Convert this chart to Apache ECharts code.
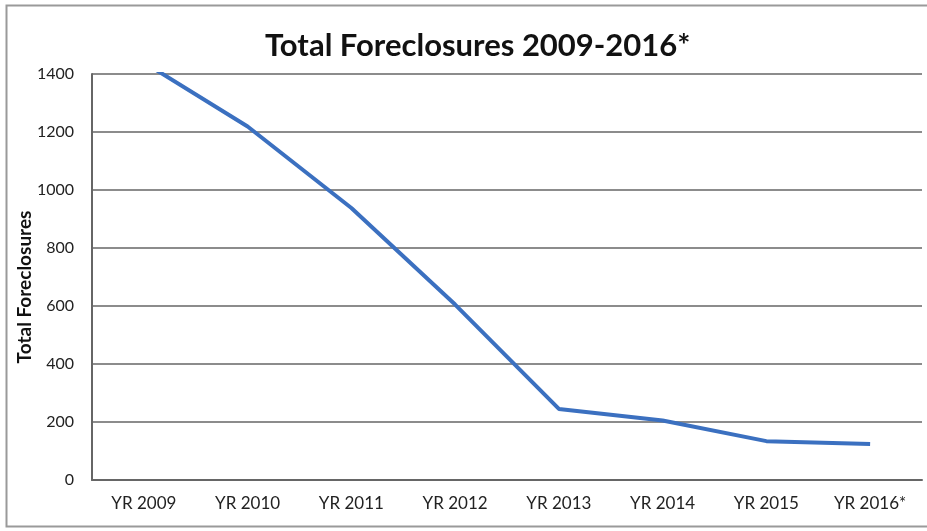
<!DOCTYPE html>
<html>
<head>
<meta charset="utf-8">
<script src="https://cdn.jsdelivr.net/npm/echarts@6/dist/echarts.min.js"></script>
<style>
  html, body { margin: 0; padding: 0; background: #fff; }
  #chart { width: 927px; height: 531px; }
</style>
</head>
<body>
<div id="chart"></div>
<script>
// Yearly foreclosure totals
const years = ['YR 2009', 'YR 2010', 'YR 2011', 'YR 2012', 'YR 2013', 'YR 2014', 'YR 2015', 'YR 2016*'];
const foreclosures = [1440, 1219, 938, 605, 245, 205, 134, 124];
const yTicks = [0, 200, 400, 600, 800, 1000, 1200, 1400];

const font = 'Lato, "Open Sans", sans-serif';
const chart = echarts.init(document.getElementById('chart'));

chart.setOption({
  animation: false,
  backgroundColor: '#fff',
  title: {
    text: 'Total Foreclosures 2009-2016*',
    left: 260,
    top: 25,
    textStyle: { fontFamily: font, fontWeight: 'bold', fontSize: 31, color: '#111' }
  },
  graphic: [{
    type: 'rect',
    shape: { x: 6.5, y: 5.5, width: 930, height: 521 },
    style: { fill: 'none', stroke: '#9a9a9a', lineWidth: 2 },
    silent: true
  }],
  grid: { left: 92, right: 5, top: 74, bottom: 51 },
  xAxis: {
    type: 'category',
    data: years,
    boundaryGap: true,
    axisLine: { lineStyle: { color: '#666', width: 2 } },
    axisTick: { show: false },
    axisLabel: { fontFamily: font, fontSize: 17, color: '#222', margin: 15 }
  },
  yAxis: {
    type: 'value',
    min: yTicks[0],
    max: yTicks[yTicks.length - 1],
    interval: 200,
    name: 'Total Foreclosures',
    nameLocation: 'middle',
    nameGap: 58,
    nameMoveOverlap: false,
    nameTextStyle: {
      fontFamily: font, fontWeight: 'bold', fontSize: 19, color: '#111',
      padding: [0, 20, 0, 0]
    },
    axisLine: { show: true, lineStyle: { color: '#666', width: 2 } },
    axisTick: { show: false },
    axisLabel: {
      fontFamily: font, fontSize: 16, color: '#222', margin: 18,
      formatter: v => String(v)
    },
    splitLine: { lineStyle: { color: '#8c8c8c', width: 2 } }
  },
  series: [{
    type: 'line',
    data: foreclosures,
    symbol: 'none',
    clip: true,
    lineStyle: { color: '#3b70c0', width: 4 }
  }]
});
</script>
</body>
</html>
